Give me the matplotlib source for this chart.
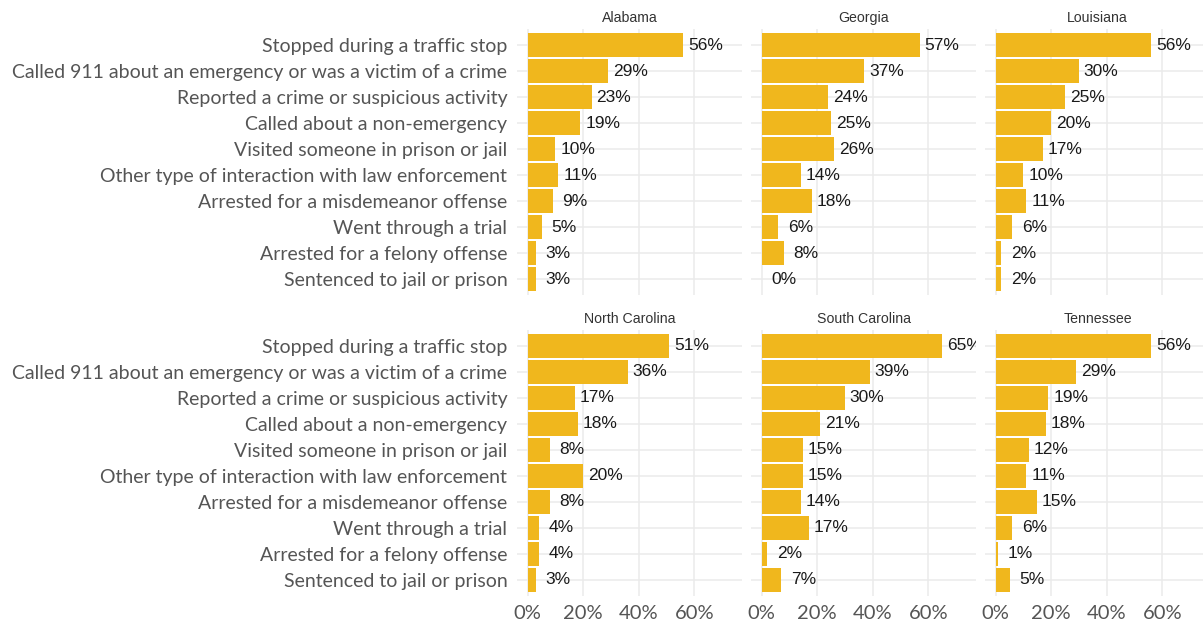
import matplotlib
matplotlib.use('Agg')
import matplotlib.pyplot as plt

categories = [
    'Stopped during a traffic stop',
    'Called 911 about an emergency or was a victim of a crime',
    'Reported a crime or suspicious activity',
    'Called about a non-emergency',
    'Visited someone in prison or jail',
    'Other type of interaction with law enforcement',
    'Arrested for a misdemeanor offense',
    'Went through a trial',
    'Arrested for a felony offense',
    'Sentenced to jail or prison',
]

states = ['Alabama', 'Georgia', 'Louisiana', 'North Carolina', 'South Carolina', 'Tennessee']

alabama = [56, 29, 23, 19, 10, 11, 9, 5, 3, 3]
georgia = [57, 37, 24, 25, 26, 14, 18, 6, 8, 0]
louisiana = [56, 30, 25, 20, 17, 10, 11, 6, 2, 2]
north_carolina = [51, 36, 17, 18, 8, 20, 8, 4, 4, 3]
south_carolina = [65, 39, 30, 21, 15, 15, 14, 17, 2, 7]
tennessee = [56, 29, 19, 18, 12, 11, 15, 6, 1, 5]

values = [alabama, georgia, louisiana, north_carolina, south_carolina, tennessee]

bar_color = '#F0B71D'
grid_color = '#EBEBEB'
label_color = '#555555'

fig = plt.figure(figsize=(12.03, 6.23), dpi=100)

W, H = 1203, 623
lefts = [517, 751, 985]
tops = [29.4, 330.4]
pw, ph = 225, 265.2

ypos = list(range(1, len(categories) + 1))

for k, state in enumerate(states):
    r, c = divmod(k, 3)
    ax = fig.add_axes([lefts[c] / W, 1 - (tops[r] + ph) / H, pw / W, ph / H])
    vals = [v / 100 for v in values[k]]
    ax.barh(ypos, vals, height=0.9, color=bar_color, zorder=2)
    for y, v in zip(ypos, vals):
        ax.text(v + 0.08, y, f'{round(v * 100)}%', ha='center', va='center',
                fontsize=12.5, family='Liberation Sans', color='#1a1a1a',
                clip_on=True, zorder=3)
    ax.set_xlim(-0.0385, 0.772)
    ax.set_ylim(10.6, 0.4)
    ax.set_xticks([0, 0.2, 0.4, 0.6])
    ax.set_yticks(ypos)
    ax.grid(True, color=grid_color, linewidth=1.1, zorder=0)
    ax.set_axisbelow(True)
    for s in ax.spines.values():
        s.set_visible(False)
    ax.tick_params(length=0, pad=7)
    if c == 0:
        ax.set_yticklabels(categories, fontsize=14, family='Lato',
                           color=label_color)
    else:
        ax.set_yticklabels([])
    if r == 1:
        ax.set_xticklabels(['0%', '20%', '40%', '60%'], fontsize=14.5,
                           family='Lato', color=label_color)
    else:
        ax.set_xticklabels([])
    ax.set_title(state, fontsize=10.2, family='Liberation Sans', color='#333333', pad=5)

fig.savefig('out.png', dpi=100)
